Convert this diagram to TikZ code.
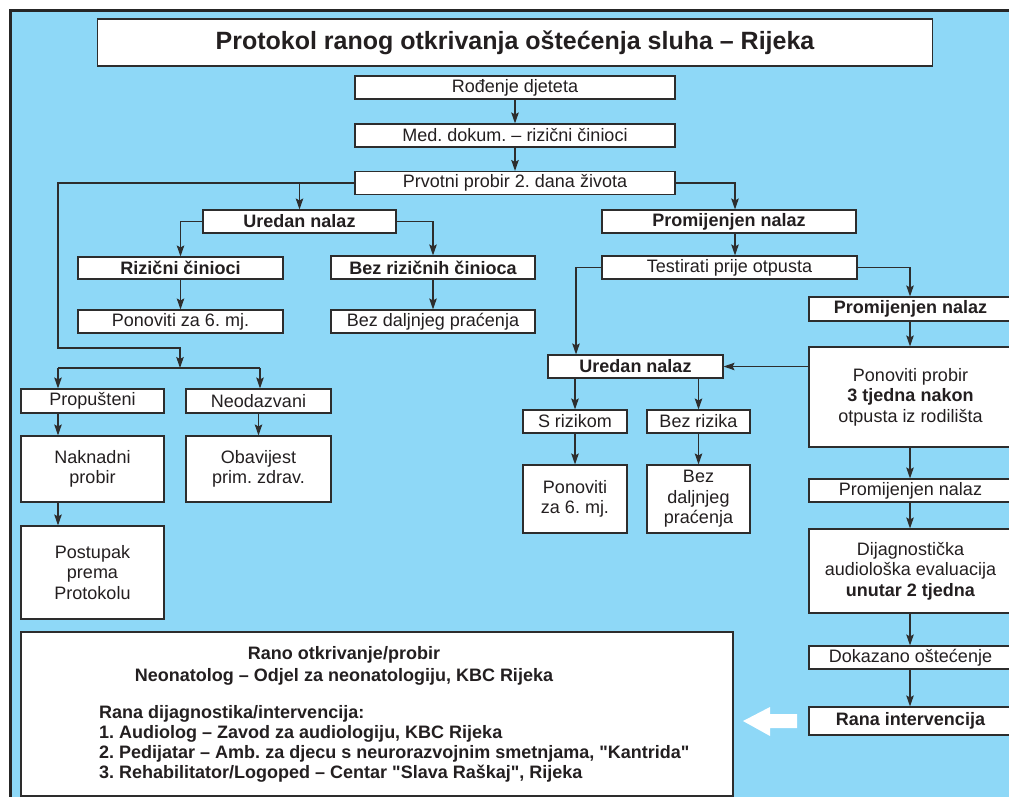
\documentclass[tikz,border=0pt]{standalone}
\usepackage{fontspec}
\setmainfont{Liberation Sans}[Ligatures=TeXOff]
\usetikzlibrary{arrows.meta}
\definecolor{bg}{RGB}{142,216,247}
\definecolor{ln}{RGB}{45,45,45}
\definecolor{tx}{RGB}{35,31,32}
\frenchspacing
\begin{document}
\begin{tikzpicture}[x=1pt,y=-1pt,
  box/.style={draw=ln, line width=1.1pt, fill=white, inner sep=0pt, text=tx,
    font=\fontsize{18}{20.5}\selectfont, align=center},
  bbox/.style={box, font=\fontsize{18}{20.5}\selectfont\bfseries},
  conn/.style={draw=ln, line width=1.2pt},
  arr/.style={conn, -{Stealth[length=11pt,width=7.5pt,inset=2pt]}},
  txt/.style={text=tx, inner sep=0pt, font=\fontsize{18}{20.5}\selectfont\bfseries, anchor=base}
]
\useasboundingbox (0,0) rectangle (1009,797);
\clip (0,0) rectangle (1009,797);
\fill[white] (0,0) rectangle (1009,797);
\fill[bg] (10,10) rectangle (1009,797);
\draw[line width=3pt, color=black!85] (1015,10.5) -- (10.5,10.5) -- (10.5,805);

% title
\node[box, line width=1.4pt, font=\fontsize{25}{30}\selectfont\bfseries, minimum width=835pt, minimum height=47pt] (title) at (515,42.5) {Protokol ranog otkrivanja oštećenja sluha – Rijeka};

% central column
\node[box, minimum width=320pt, minimum height=23pt] (rod) at (515,87.5) {Rođenje djeteta};
\node[box, minimum width=320pt, minimum height=23pt] (med) at (515,135.5) {Med. dokum. – rizični činioci};
\node[box, minimum width=320pt, minimum height=23pt] (prv) at (515,183) {Prvotni probir 2. dana života};

% left branch
\node[bbox, minimum width=193pt, minimum height=23pt] (ured1) at (299.5,221.5) {Uredan nalaz};
\node[bbox, minimum width=205pt, minimum height=22pt] (riz) at (180.5,268) {Rizični činioci};
\node[bbox, minimum width=204pt, minimum height=23pt] (bezriz) at (433,267.5) {Bez rizičnih činioca};
\node[box, minimum width=205pt, minimum height=23pt] (pon1) at (180.5,321.5) {Ponoviti za 6. mj.};
\node[box, minimum width=204pt, minimum height=23pt] (bezdalj1) at (433,321.5) {Bez daljnjeg praćenja};

\node[box, minimum width=143pt, minimum height=24pt] (prop) at (92.5,401) {Propušteni};
\node[box, minimum width=145pt, minimum height=24pt] (neod) at (258.5,401) {Neodazvani};
\node[box, minimum width=143pt, minimum height=66pt] (nakn) at (92.5,469) {Naknadni\\probir};
\node[box, minimum width=145pt, minimum height=66pt] (obav) at (258.5,469) {Obavijest\\prim. zdrav.};
\node[box, minimum width=143pt, minimum height=93pt] (post) at (92.5,572.5) {Postupak\\prema\\Protokolu};

% right branch
\node[bbox, minimum width=254pt, minimum height=23pt] (prom1) at (729,221.5) {Promijenjen nalaz};
\node[box, minimum width=255pt, minimum height=23pt] (test) at (729.5,267.5) {Testirati prije otpusta};
\node[bbox, minimum width=207pt, minimum height=24pt] (prom2) at (912.5,309) {\hspace*{-4pt}Promijenjen nalaz};
\node[box, minimum width=207pt, minimum height=100pt] (ponprob) at (912.5,397) {\hspace*{-4pt}Ponoviti probir\\\hspace*{-4pt}\textbf{3 tjedna nakon}\\\hspace*{-4pt}otpusta iz rodilišta};
\node[bbox, minimum width=175pt, minimum height=23pt] (ured2) at (635.5,366.5) {Uredan nalaz};
\node[box, minimum width=104pt, minimum height=23pt] (sriz) at (575,421.5) {S rizikom};
\node[box, minimum width=103pt, minimum height=23pt] (bezr) at (698.5,421.5) {Bez rizika};
\node[box, minimum width=104pt, minimum height=68pt] (pon2) at (575,499) {Ponoviti\\za 6. mj.};
\node[box, minimum width=103pt, minimum height=68pt] (bezdalj2) at (698.5,499) {Bez\\daljnjeg\\praćenja};
\node[box, minimum width=207pt, minimum height=23pt] (prom3) at (912.5,490.5) {\hspace*{-4pt}Promijenjen nalaz};
\node[box, minimum width=207pt, minimum height=84pt] (dijag) at (912.5,571) {\hspace*{-4pt}Dijagnostička\\\hspace*{-4pt}audiološka evaluacija\\\hspace*{-4pt}\textbf{unutar 2 tjedna}};
\node[box, minimum width=207pt, minimum height=23pt] (dokaz) at (912.5,657.5) {\hspace*{-4pt}Dokazano oštećenje};
\node[bbox, minimum width=207pt, minimum height=28pt] (rana) at (912.5,721) {\hspace*{-4pt}Rana intervencija};

% info box
\node[box, minimum width=712pt, minimum height=164pt] (info) at (377,714) {};
\node[txt] (i1) at (344,659) {Rano otkrivanje/probir};
\node[txt] (i2) at (344,681) {Neonatolog – Odjel za neonatologiju, KBC Rijeka};
\node[txt, anchor=base west] (i3) at (99,718) {Rana dijagnostika/intervencija:};
\node[txt, anchor=base west] (i4) at (99,738) {1. Audiolog – Zavod za audiologiju, KBC Rijeka};
\node[txt, anchor=base west] (i5) at (99,758) {2. Pedijatar – Amb. za djecu s neurorazvojnim smetnjama, "Kantrida"};
\node[txt, anchor=base west] (i6) at (99,778) {3. Rehabilitator/Logoped – Centar "Slava Raškaj", Rijeka};

% white arrow
\fill[white] (743,721) -- (770,707) -- (770,714) -- (797,714) -- (797,728) -- (770,728) -- (770,736) -- cycle;

% coordinates
\coordinate (lA) at (58,183);
\coordinate (lB) at (58,348);
\coordinate (lC) at (180,348);
\coordinate (lD) at (180,368);
\coordinate (bL) at (58,368);
\coordinate (bR) at (260,368);
\coordinate (rA) at (735,183);
\coordinate (tL) at (576,267.5);
\coordinate (rX) at (910,267.5);

% connectors
\draw[arr] (rod) -- (med);
\draw[arr] (med) -- (prv);
\draw[arr] (prv.west) -- (lA) -- (lB) -- (lC) -- (lD);
\draw[conn] (bL) -- (bR);
\draw[arr] (bL) -- (bL |- prop.north);
\draw[arr] (bR) -- (bR |- neod.north);
\draw[arr] (ured1.north |- prv.west) -- (ured1.north);
\draw[arr] (prv.east) -- (rA) -- (rA |- prom1.north);
\draw[arr] (ured1.west) -| (riz.north);
\draw[arr] (ured1.east) -| (bezriz.north);
\draw[arr] (riz) -- (pon1);
\draw[arr] (bezriz) -- (bezdalj1);
\draw[arr] (prop.south -| lA) -- (nakn.north -| lA);
\draw[arr] (nakn.south -| lA) -- (post.north -| lA);
\draw[arr] (neod) -- (obav);
\draw[arr] (rA |- prom1.south) -- (rA |- test.north);
\draw[arr] (test.west) -- (tL) -- (tL |- ured2.north);
\draw[arr] (test.east) -- (rX) -- (rX |- prom2.north);
\draw[arr] (rX |- prom2.south) -- (rX |- ponprob.north);
\draw[arr] (ponprob.west |- ured2.east) -- (ured2.east);
\draw[arr] (ured2.south -| sriz) -- (sriz.north);
\draw[arr] (ured2.south -| bezr) -- (bezr.north);
\draw[arr] (sriz) -- (pon2);
\draw[arr] (bezr) -- (bezdalj2);
\draw[arr] (rX |- ponprob.south) -- (rX |- prom3.north);
\draw[arr] (rX |- prom3.south) -- (rX |- dijag.north);
\draw[arr] (rX |- dijag.south) -- (rX |- dokaz.north);
\draw[arr] (rX |- dokaz.south) -- (rX |- rana.north);
\end{tikzpicture}
\end{document}
